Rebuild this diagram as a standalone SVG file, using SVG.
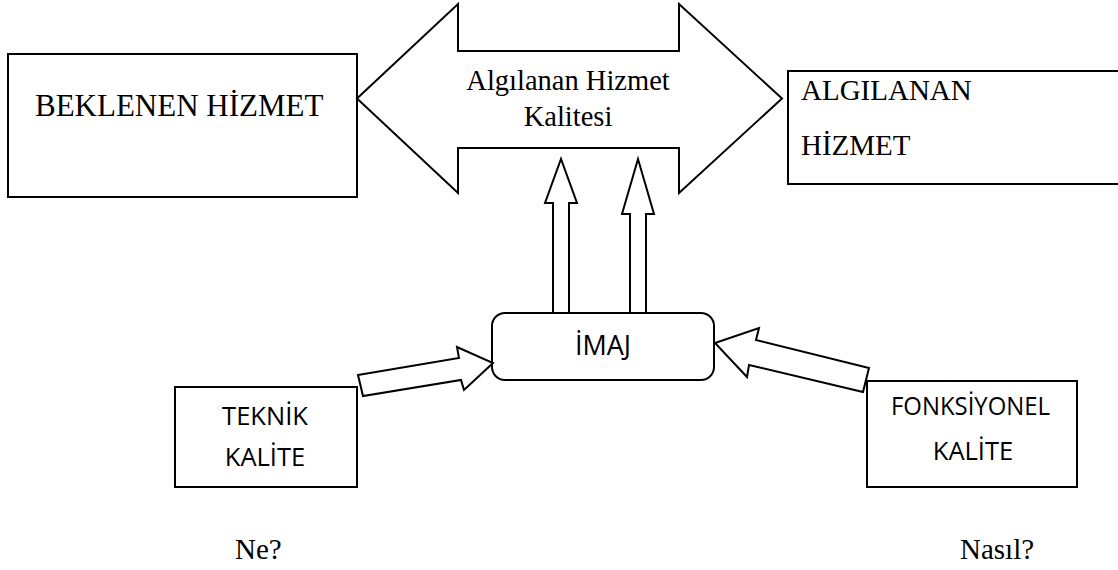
<svg xmlns="http://www.w3.org/2000/svg" width="1118" height="570" viewBox="0 0 1118 570">
  <style>
    .box { fill: #fff; stroke: #000; stroke-width: 2; }
    .arrow { fill: #fff; stroke: #000; stroke-width: 2; stroke-linejoin: miter; }
    .serif { font-family: "Liberation Serif", "Times New Roman", serif; fill: #000; }
    .sans { font-family: "Open Sans", "Liberation Sans", sans-serif; fill: #000; font-size: 25.5px; }
  </style>
  <rect width="1118" height="570" fill="#fff"/>

  <g id="beklenen-hizmet">
    <rect class="box" x="8" y="54" width="349" height="143"/>
    <text class="serif" x="35" y="116" font-size="31">BEKLENEN HİZMET</text>
  </g>

  <g id="algilanan-hizmet">
    <rect class="box" x="788" y="71" width="340" height="113"/>
    <text class="serif" x="801" y="100" font-size="29">ALGILANAN</text>
    <text class="serif" x="801" y="155" font-size="29">HİZMET</text>
  </g>

  <g id="hizmet-kalitesi">
    <polygon class="arrow" stroke-width="1.6" points="357,98.5 458,4 458,51 679,51 679,4 782,98.5 679,193 679,148 458,148 458,193"/>
    <text class="serif" x="568" y="90" font-size="28.5" text-anchor="middle">Algılanan Hizmet</text>
    <text class="serif" x="568" y="126" font-size="28.5" text-anchor="middle">Kalitesi</text>
  </g>

  <g id="imaj">
    <rect class="box" x="492" y="313" width="222" height="67" rx="13" ry="13"/>
    <text class="sans" x="603" y="355" style="font-size:27px" text-anchor="middle">İMAJ</text>
  </g>

  <g id="teknik-kalite">
    <rect class="box" x="175" y="387" width="182" height="100"/>
    <text class="sans" x="265" y="425" text-anchor="middle">TEKNİK</text>
    <text class="sans" x="265" y="466" text-anchor="middle">KALİTE</text>
  </g>

  <g id="fonksiyonel-kalite">
    <rect class="box" x="867" y="381" width="210" height="106"/>
    <text class="sans" x="891" y="415" textLength="159" lengthAdjust="spacingAndGlyphs">FONKSİYONEL</text>
    <text class="sans" x="973" y="460" text-anchor="middle">KALİTE</text>
  </g>

  <g id="connectors">
    <!-- two block arrows from İMAJ up to the quality arrow -->
    <polygon class="arrow" points="553,313 553,203 545,203 561,159 577,203 569,203 569,313"/>
    <polygon class="arrow" points="630,313 630,214 622,214 638,159 654,214 646,214 646,313"/>
    <!-- block arrow from TEKNİK KALİTE to İMAJ -->
    <polygon class="arrow" points="358,375 459,358 457,347 493,363 464,390 461,380 363,396"/>
    <!-- block arrow from FONKSİYONEL KALİTE to İMAJ -->
    <polygon class="arrow" points="715,343 759,328 756,340 869,368 863,392 749,365 747,377"/>
  </g>

  <g id="labels">
    <text class="serif" x="235" y="559" font-size="29">Ne?</text>
    <text class="serif" x="960" y="559" font-size="29">Nasıl?</text>
  </g>
</svg>
